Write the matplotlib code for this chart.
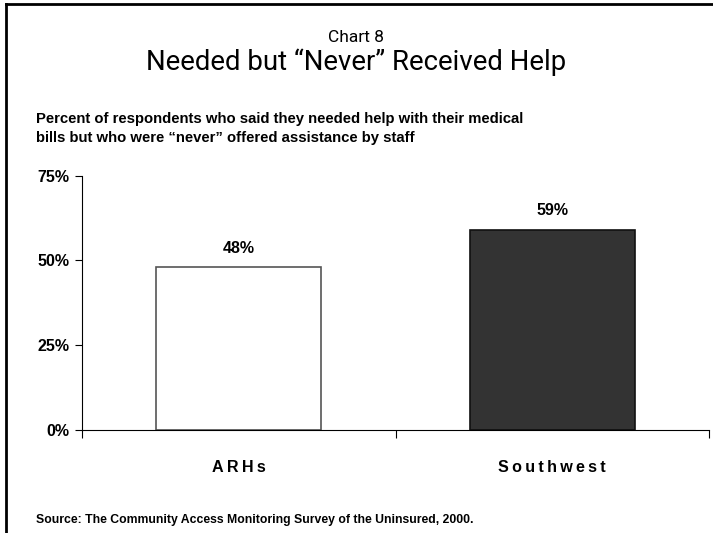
import matplotlib.pyplot as plt
from matplotlib.lines import Line2D

# values (percent)
groups = ['ARHs', 'Southwest']
never_offered = [48, 59]
bar_colors = ['white', '#333333']
edge_colors = ['#555555', '#111111']
yticks = [0, 25, 50, 75]


def spaced(s):
    # the original uses wide letter spacing on the category names
    return '\u2009'.join(s)


fig = plt.figure(figsize=(7.13, 5.33), dpi=100)
ax = fig.add_axes([0.115, 0.1932, 0.8794, 0.4772])

positions = list(range(len(groups)))
bars = ax.bar(positions, never_offered, width=0.527, color=bar_colors,
              edgecolor=edge_colors, linewidth=1.2)

for x, v in zip(positions, never_offered):
    ax.text(x, v + 3.4, f'{v}%', ha='center', va='bottom', fontsize=11.5,
            fontweight='bold', family='Liberation Sans')

ax.set_xlim(-0.5, 1.5)
ax.set_ylim(0, 75)
ax.set_yticks(yticks)
ax.set_yticklabels([f'{t}%' for t in yticks], fontsize=11.5, fontweight='bold',
                   family='Liberation Sans')
ax.tick_params(axis='y', length=5, width=0.8, pad=4)

# category boundaries get the ticks, labels sit under the bar centres
ax.set_xticks([-0.5, 0.5, 1.5])
ax.set_xticklabels(['', '', ''])
ax.tick_params(axis='x', which='major', length=6, width=0.8, direction='out')
ax.set_xticks(positions, minor=True)
ax.set_xticklabels([spaced(g) for g in groups], minor=True, fontsize=11.6,
                   fontweight='bold', family='Liberation Sans')
ax.tick_params(axis='x', which='minor', length=0, pad=21.5)

for side in ['top', 'right']:
    ax.spines[side].set_visible(False)
for side in ['left', 'bottom']:
    ax.spines[side].set_linewidth(0.8)

# frame around the slide (top and left edges)
fig.add_artist(Line2D([0.008, 1.0], [0.993, 0.993], transform=fig.transFigure,
                      color='black', linewidth=2))
fig.add_artist(Line2D([0.008, 0.008], [0.0, 0.993], transform=fig.transFigure,
                      color='black', linewidth=2))

fig.text(0.5, 0.930, 'Chart 8', ha='center', va='center', fontsize=12.5,
         family='Roboto', fontweight='normal', color='black')
fig.text(0.5, 0.883, 'Needed but \u201cNever\u201d Received Help', ha='center',
         va='center', fontsize=19.8, family='Roboto', fontweight='normal',
         color='black')
fig.text(0.05, 0.789, 'Percent of respondents who said they needed help with their medical\n'
         'bills but who were \u201cnever\u201d offered assistance by staff',
         ha='left', va='top', fontsize=10.7, fontweight='bold',
         family='Liberation Sans', linespacing=1.45)
fig.text(0.05, 0.024, 'Source: The Community Access Monitoring Survey of the Uninsured, 2000.',
         ha='left', va='center', fontsize=8.8, fontweight='bold',
         family='Liberation Sans')

fig.savefig('out.png', dpi=100)
